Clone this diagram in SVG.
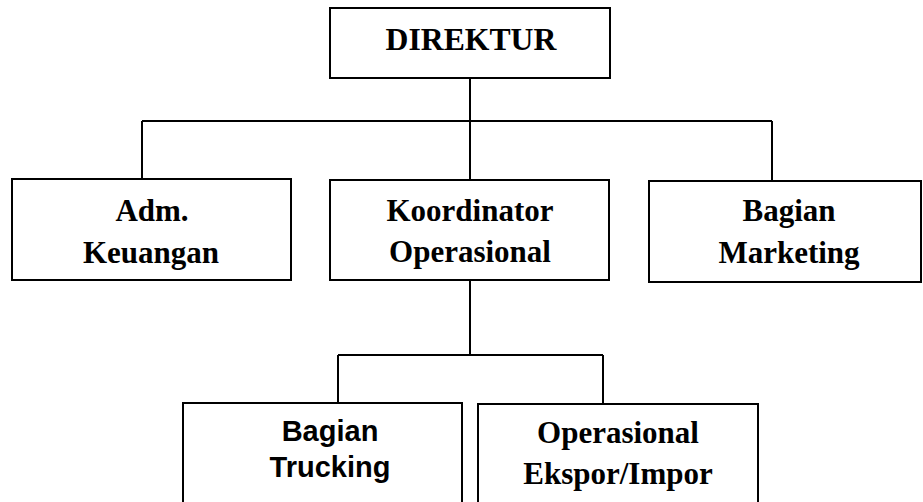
<svg xmlns="http://www.w3.org/2000/svg" width="923" height="502" viewBox="0 0 923 502">
<style>
.box{fill:#fff;stroke:#000;stroke-width:2}
.ln{fill:none;stroke:#000;stroke-width:2}
.t{font-family:"Liberation Serif","Times New Roman",serif;font-weight:bold;font-size:31px;fill:#000;text-anchor:middle}
.s{font-family:"Liberation Sans",Arial,sans-serif;font-weight:bold;font-size:29px;fill:#000;text-anchor:middle}
</style>
<rect width="923" height="502" fill="#fff"/>
<g id="connectors">
<path class="ln" d="M470 78V180M142 121H772M142 121V179M772 121V181"/>
<path class="ln" d="M470 280V355M338 355H603M338 355V403M603 355V404"/>
</g>
<g id="direktur">
<rect class="box" x="330" y="8" width="280" height="70"/>
<text class="t" x="471" y="50" style="font-size:31.7px">DIREKTUR</text>
</g>
<g id="adm">
<rect class="box" x="12" y="179" width="279" height="101"/>
<text class="t" x="152" y="221">Adm.</text>
<text class="t" x="151" y="263">Keuangan</text>
</g>
<g id="koordinator">
<rect class="box" x="330" y="180" width="279" height="100"/>
<text class="t" x="470" y="221">Koordinator</text>
<text class="t" x="470" y="262">Operasional</text>
</g>
<g id="marketing">
<rect class="box" x="649" y="181" width="272" height="101"/>
<text class="t" x="789" y="221">Bagian</text>
<text class="t" x="789" y="263">Marketing</text>
</g>
<g id="trucking">
<rect class="box" x="183" y="403" width="279" height="120"/>
<text class="s" x="330" y="441">Bagian</text>
<text class="s" x="330" y="477">Trucking</text>
</g>
<g id="ekspor">
<rect class="box" x="478" y="404" width="280" height="120"/>
<text class="t" x="618" y="443">Operasional</text>
<text class="t" x="618" y="484">Ekspor/Impor</text>
</g>
</svg>
